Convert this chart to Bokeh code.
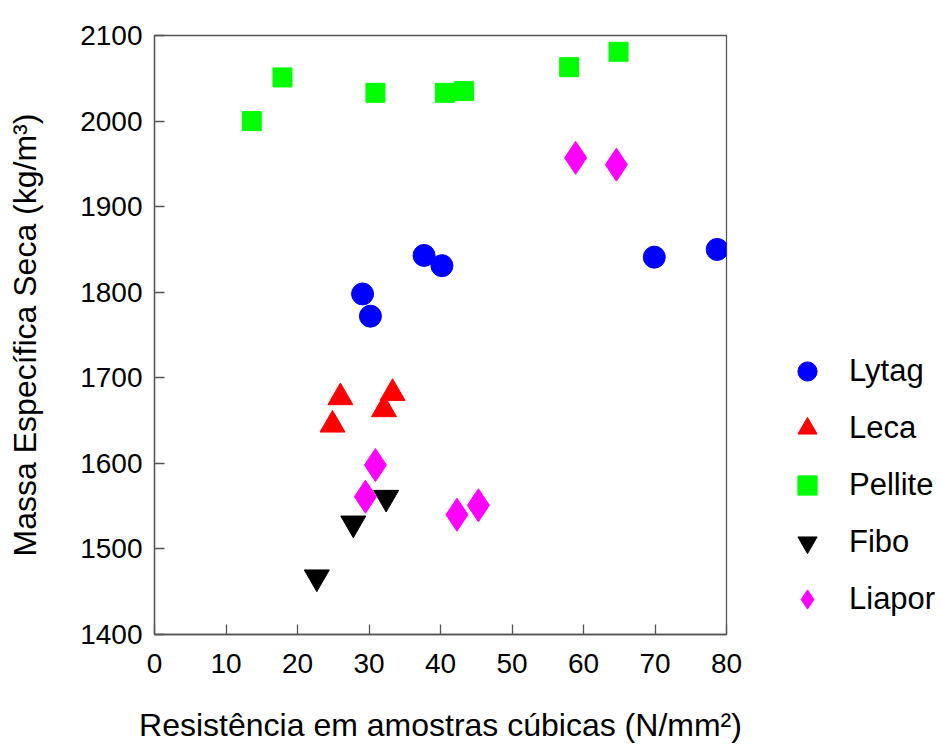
from bokeh.plotting import figure
from bokeh.layouts import row
from bokeh.models import Legend, LegendItem, Range1d, FixedTicker
from bokeh.embed import file_html
from bokeh.resources import INLINE

# Data
lytag_x = [29.1, 30.2, 37.7, 40.2, 69.9, 78.7]
lytag_y = [1798, 1772, 1843, 1831, 1841, 1850]

leca_x = [26.0, 24.9, 32.1, 33.3]
leca_y = [1677, 1645, 1663, 1682]

pellite_x = [13.6, 17.9, 30.9, 40.6, 43.3, 58.0, 64.9]
pellite_y = [2000, 2051, 2033, 2033, 2035, 2063, 2081]

fibo_x = [22.7, 27.8, 32.4]
fibo_y = [1467, 1530, 1560]

liapor_x = [58.9, 64.6, 30.9, 29.5, 42.3, 45.3]
liapor_y = [1957, 1949, 1598, 1561, 1540, 1551]

series_names = ["Lytag", "Leca", "Pellite", "Fibo", "Liapor"]

x_ticks = [0, 10, 20, 30, 40, 50, 60, 70, 80]
y_ticks = [1400, 1500, 1600, 1700, 1800, 1900, 2000, 2100]

x_title = "Resistência em amostras cúbicas (N/mm²)"
y_title = "Massa Específica Seca (kg/m³)"

FONT = "Liberation Sans"
AX = "#555555"

styles = [
    dict(marker="circle", size=22, fill_color="#0000ff", line_color="#0000ff"),
    dict(marker="triangle", size=25, fill_color="#ff0000", line_color="#ff0000"),
    dict(marker="square", size=19, fill_color="#00ff00", line_color="#00ff00"),
    dict(marker="inverted_triangle", size=25, fill_color="black", line_color="black"),
    dict(marker="diamond", size=33, fill_color="#ff00ff", line_color="#ff00ff"),
]
series = [(lytag_x, lytag_y), (leca_x, leca_y), (pellite_x, pellite_y),
          (fibo_x, fibo_y), (liapor_x, liapor_y)]

p = figure(width=760, height=745, output_backend="svg", toolbar_location=None,
           x_range=Range1d(0, 80), y_range=Range1d(1400, 2100),
           min_border_left=154, min_border_right=34,
           min_border_top=35, min_border_bottom=109)

p.background_fill_color = "white"
p.border_fill_color = "white"
p.outline_line_color = AX
p.outline_line_width = 1.3
p.xgrid.grid_line_color = None
p.ygrid.grid_line_color = None

for ax in (p.xaxis[0], p.yaxis[0]):
    ax.axis_line_color = AX
    ax.axis_line_width = 1.3
    ax.major_tick_line_color = AX
    ax.major_tick_line_width = 1.3
    ax.major_tick_in = 10
    ax.major_tick_out = 0
    ax.minor_tick_line_color = None
    ax.major_label_text_font = FONT
    ax.major_label_text_font_size = "28px"
    ax.major_label_text_color = "black"
    ax.axis_label_text_font = FONT
    ax.axis_label_text_font_size = "32px"
    ax.axis_label_text_font_style = "normal"
    ax.axis_label_text_color = "black"

p.xaxis[0].ticker = FixedTicker(ticks=x_ticks)
p.yaxis[0].ticker = FixedTicker(ticks=y_ticks)
p.xaxis[0].axis_label = x_title
p.yaxis[0].axis_label = y_title
p.xaxis[0].major_label_standoff = 19
p.yaxis[0].major_label_standoff = 12
p.xaxis[0].axis_label_standoff = 31
p.yaxis[0].axis_label_standoff = 34

for (xs, ys), st in zip(series, styles):
    p.scatter(xs, ys, **st)

# Legend panel to the right of the plot; its own ranges keep the
# (duplicate) legend renderers out of view so only the legend shows.
pl = figure(width=181, height=745, output_backend="svg", toolbar_location=None,
            x_axis_location=None, y_axis_location=None,
            x_range=Range1d(-20, -10), y_range=Range1d(0, 1),
            min_border_left=0, min_border_right=0,
            min_border_top=35, min_border_bottom=109)
pl.outline_line_color = None
pl.xgrid.grid_line_color = None
pl.ygrid.grid_line_color = None
pl.background_fill_color = "white"
pl.border_fill_color = "white"

items = []
for name, (xs, ys), st in zip(series_names, series, styles):
    r = pl.scatter(xs, ys, **st)
    items.append(LegendItem(label=name, renderers=[r]))

legend = Legend(items=items, location=(23, 11))
legend.border_line_color = None
legend.background_fill_alpha = 0
legend.padding = 0
legend.margin = 0
legend.spacing = 9
legend.glyph_width = 48
legend.glyph_height = 48
legend.label_standoff = 18
legend.label_text_font = FONT
legend.label_text_font_size = "31px"
legend.label_text_color = "black"
pl.add_layout(legend, "center")

layout = row(p, pl)
open("out.html", "w").write(file_html(layout, INLINE))
